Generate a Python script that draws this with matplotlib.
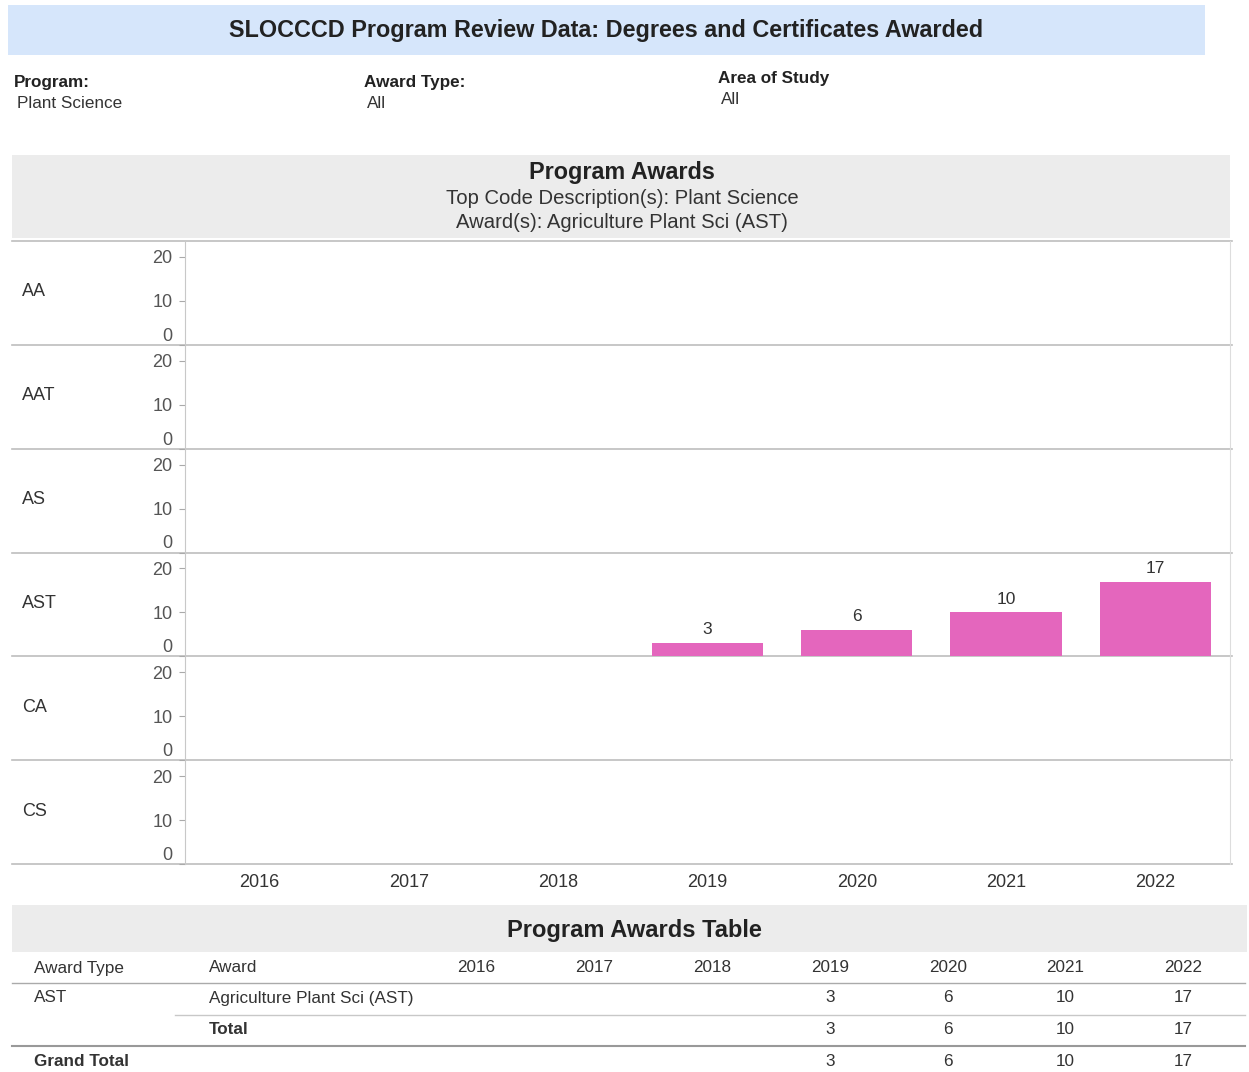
import numpy as np
import matplotlib
matplotlib.use("Agg")
import matplotlib.pyplot as plt
from matplotlib.patches import Rectangle

plt.rcParams["font.family"] = ["Liberation Sans", "DejaVu Sans"]

# ---- data ----
years = [2016, 2017, 2018, 2019, 2020, 2021, 2022]
award_types = ["AA", "AAT", "AS", "AST", "CA", "CS"]
ast_awards = [None, None, None, 3, 6, 10, 17]
award_name = "Agriculture Plant Sci (AST)"
y_ticks = [0, 10, 20]

counts = {t: [None] * len(years) for t in award_types}
counts["AST"] = ast_awards

W, H = 1249, 1072
BAR = "#e466bd"
TXT = "#333333"
GREY = "#555555"

fig = plt.figure(figsize=(W / 100, H / 100), dpi=100)

# background axes in pixel coords for banners / text / table
bg = fig.add_axes([0, 0, 1, 1], zorder=0)
bg.set_xlim(0, W)
bg.set_ylim(H, 0)
bg.axis("off")

# title banner
bg.add_patch(Rectangle((8, 5), 1197, 50, color="#d6e6fb", lw=0))
bg.text(606, 30, "SLOCCCD Program Review Data: Degrees and Certificates Awarded",
        ha="center", va="center", fontsize=16.8, fontweight="bold", color="#222222")

# filters
for x, y, head, val in [(14, 82, "Program:", "Plant Science"),
                        (364, 82, "Award Type:", "All"),
                        (718, 78, "Area of Study", "All")]:
    bg.text(x, y, head, ha="left", va="center", fontsize=12.3, fontweight="bold", color="#222222")
    bg.text(x + 3, y + 21, val, ha="left", va="center", fontsize=12.3, color=TXT)

# chart banner
bg.add_patch(Rectangle((12, 155), 1218, 83, color="#ececec", lw=0))
bg.text(622, 173, "Program Awards", ha="center", va="center",
        fontsize=16.8, fontweight="bold", color="#222222")
bg.text(622, 198, "Top Code Description(s): Plant Science", ha="center", va="center",
        fontsize=14.6, color=TXT)
bg.text(622, 222, "Award(s): " + award_name, ha="center", va="center",
        fontsize=14.6, color=TXT)

# faceted bar chart
left_px, right_px = 185, 1230
row_edges = np.linspace(241, 864, len(award_types) + 1)
x = np.arange(len(years))

for i, atype in enumerate(award_types):
    top, bot = row_edges[i], row_edges[i + 1]
    ax = fig.add_axes([left_px / W, (H - bot) / H, (right_px - left_px) / W, (bot - top) / H],
                      zorder=2)
    ax.patch.set_alpha(0)
    vals = np.array([np.nan if v is None else v for v in counts[atype]], dtype=float)
    ax.bar(x, np.nan_to_num(vals), width=0.745, color=BAR, zorder=2)
    for xi, v in zip(x, vals):
        if not np.isnan(v):
            ax.text(xi, v + 1.3, f"{int(v)}", ha="center", va="bottom", fontsize=12.5, color=TXT)
    ax.set_xlim(-0.5, len(years) - 0.5)
    ax.set_ylim(0, 23.6)
    ax.set_yticks(y_ticks)
    ax.set_yticklabels([str(t) for t in y_ticks], fontsize=13, color=GREY)
    ax.get_yticklabels()[0].set_verticalalignment("bottom")
    ax.tick_params(axis="y", length=4, color="#aaaaaa", pad=5)
    for s in ["top", "bottom"]:
        ax.spines[s].set_visible(False)
    ax.spines["left"].set_color("#c8c8c8")
    ax.spines["right"].set_color("#dddddd")
    if i == len(award_types) - 1:
        ax.set_xticks(x)
        ax.set_xticklabels([str(y) for y in years], fontsize=13, color=TXT)
        ax.tick_params(axis="x", length=0, pad=7)
    else:
        ax.set_xticks([])
    bg.text(22, (top + bot) / 2 - 1, atype, ha="left", va="center", fontsize=13, color=TXT)

for e in row_edges:
    bg.plot([12, 1232], [e, e], color="#bdbdbd", lw=1.2)

# table banner
bg.add_patch(Rectangle((12, 905), 1235, 47, color="#ececec", lw=0))
bg.text(634, 930, "Program Awards Table", ha="center", va="center",
        fontsize=17, fontweight="bold", color="#222222")

year_cols = [476, 594, 712, 830, 948, 1065, 1183]
TF = 12.3
bg.text(34, 968, "Award Type", ha="left", va="center", fontsize=TF, color=TXT)
bg.text(209, 968, "Award", ha="left", va="center", fontsize=TF, color=TXT)
for xc, yr in zip(year_cols, years):
    bg.text(xc, 968, str(yr), ha="center", va="center", fontsize=TF, color=TXT)
bg.plot([12, 1245], [983, 983], color="#aaaaaa", lw=1)

bg.text(34, 998, "AST", ha="left", va="center", fontsize=TF, color=TXT)
bg.text(209, 999, award_name, ha="left", va="center", fontsize=TF, color=TXT)
bg.plot([175, 1245], [1015, 1015], color="#c8c8c8", lw=1)
bg.text(209, 1030, "Total", ha="left", va="center", fontsize=TF,
        fontweight="bold", color=TXT)
bg.plot([12, 1245], [1046, 1046], color="#999999", lw=1.5)
bg.text(34, 1062, "Grand Total", ha="left", va="center", fontsize=TF,
        fontweight="bold", color=TXT)

for xc, v in zip(year_cols, ast_awards):
    if v is None:
        continue
    for yy in (998, 1029, 1061):
        bg.text(xc, yy, str(v), ha="center", va="center", fontsize=TF, color=TXT)

fig.savefig("out.png", dpi=100)
